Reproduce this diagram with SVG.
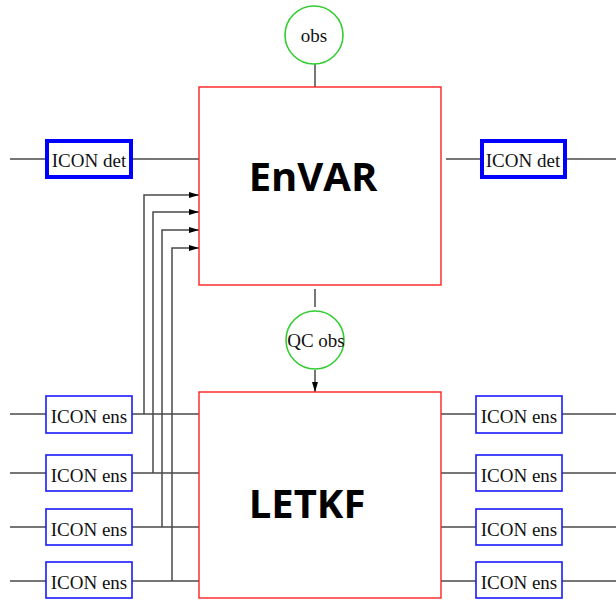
<svg xmlns="http://www.w3.org/2000/svg" width="616" height="603" viewBox="0 0 616 603">
<style>
.box{fill:#fff;stroke:#ff2020;stroke-width:1.4}
.det{fill:#fff;stroke:#0000ff;stroke-width:4}
.ens{fill:#fff;stroke:#1a1aff;stroke-width:1.6}
.circ{fill:#fff;stroke:#33cc33;stroke-width:1.6}
.ln{fill:none;stroke:#4a4a4a;stroke-width:1.5}
.lbl{font-family:"Liberation Serif",serif;font-size:19px;fill:#111;text-anchor:middle}
.big{font-family:"Open Sans",sans-serif;font-weight:bold;font-size:40px;fill:#000;text-anchor:middle}
</style>
<defs>
<marker id="ah" viewBox="0 0 10 6" refX="10" refY="3" markerWidth="10" markerHeight="6" markerUnits="userSpaceOnUse" orient="auto">
<path d="M0,0 L10,3 L0,6 Z" fill="#000"/>
</marker>
</defs>
<g id="connectors">
<path class="ln" d="M10,159 H47 M131,159 H199"/>
<path class="ln" d="M446,159 H482 M565,159 H616"/>
<path class="ln" d="M315,63 V87"/>
<path class="ln" d="M315,289 V307"/>
<path class="ln" d="M315,370 V392" marker-end="url(#ah)"/>
<path class="ln" d="M10,414 H46 M132,414 H199"/>
<path class="ln" d="M10,473 H46 M132,473 H199"/>
<path class="ln" d="M10,527 H46 M132,527 H199"/>
<path class="ln" d="M10,581 H46 M132,581 H199"/>
<path class="ln" d="M441,414 H476 M562,414 H616"/>
<path class="ln" d="M441,473 H476 M562,473 H616"/>
<path class="ln" d="M441,527 H476 M562,527 H616"/>
<path class="ln" d="M441,581 H476 M562,581 H616"/>
<path class="ln" d="M144,414 V195 H199" marker-end="url(#ah)"/>
<path class="ln" d="M153,473 V212 H199" marker-end="url(#ah)"/>
<path class="ln" d="M162,527 V230 H199" marker-end="url(#ah)"/>
<path class="ln" d="M172,581 V248 H199" marker-end="url(#ah)"/>
</g>
<g id="envar"><rect class="box" x="199" y="87" width="242" height="198"/><text class="big" x="313" y="191">EnVAR</text></g>
<g id="letkf"><rect class="box" x="199" y="392" width="242" height="206"/><text class="big" x="307" y="518">LETKF</text></g>
<g id="obs"><circle class="circ" cx="314" cy="35" r="29"/><text class="lbl" x="314" y="42">obs</text></g>
<g id="qcobs"><circle class="circ" cx="315" cy="340" r="29"/><text class="lbl" x="316" y="347">QC obs</text></g>
<g id="det-left"><rect class="det" x="47" y="141" width="84" height="36"/><text class="lbl" x="89" y="167">ICON det</text></g>
<g id="det-right"><rect class="det" x="482" y="141" width="83" height="36"/><text class="lbl" x="523" y="167">ICON det</text></g>
<g id="ens-l1"><rect class="ens" x="46" y="396" width="86" height="37"/><text class="lbl" x="89" y="423">ICON ens</text></g>
<g id="ens-l2"><rect class="ens" x="46" y="455" width="86" height="36"/><text class="lbl" x="89" y="482">ICON ens</text></g>
<g id="ens-l3"><rect class="ens" x="46" y="509" width="86" height="36"/><text class="lbl" x="89" y="536">ICON ens</text></g>
<g id="ens-l4"><rect class="ens" x="46" y="562" width="86" height="36"/><text class="lbl" x="89" y="589">ICON ens</text></g>
<g id="ens-r1"><rect class="ens" x="476" y="396" width="86" height="37"/><text class="lbl" x="519" y="423">ICON ens</text></g>
<g id="ens-r2"><rect class="ens" x="476" y="455" width="86" height="36"/><text class="lbl" x="519" y="482">ICON ens</text></g>
<g id="ens-r3"><rect class="ens" x="476" y="509" width="86" height="36"/><text class="lbl" x="519" y="536">ICON ens</text></g>
<g id="ens-r4"><rect class="ens" x="476" y="562" width="86" height="36"/><text class="lbl" x="519" y="589">ICON ens</text></g>
</svg>
